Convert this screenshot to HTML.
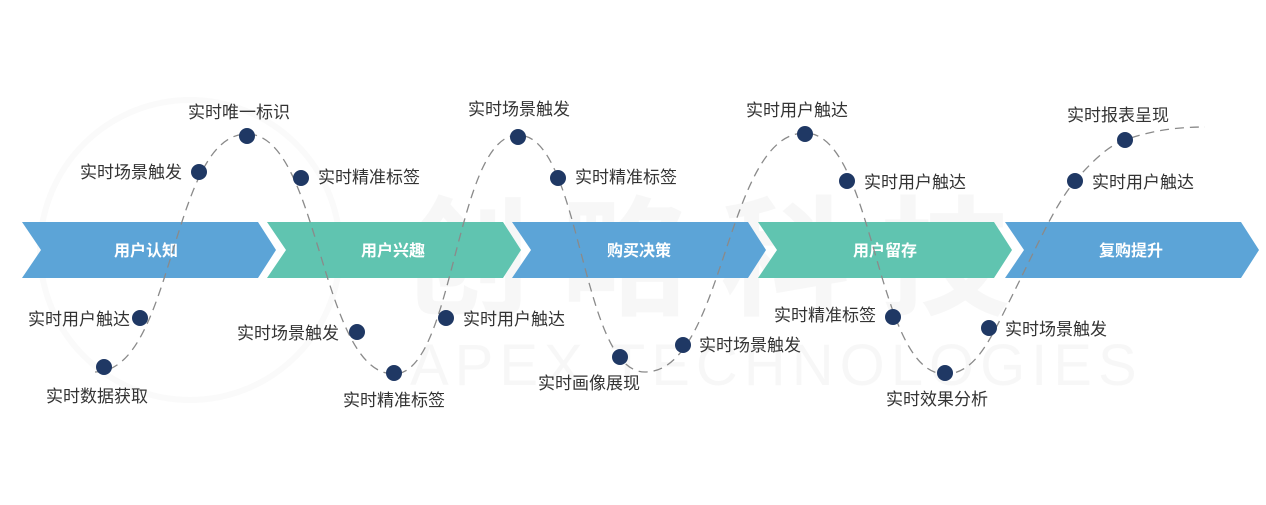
<!DOCTYPE html>
<html><head><meta charset="utf-8"><style>
html,body{margin:0;padding:0;background:#fff;}
body{width:1266px;height:505px;overflow:hidden;position:relative;}
svg{position:absolute;left:0;top:0;}
text{font-family:"Liberation Sans","Noto Sans CJK SC",sans-serif;}
</style></head><body>
<svg width="1266" height="505" viewBox="0 0 1266 505">
<g opacity="0.04" fill="#555">
<circle cx="190" cy="250" r="150" fill="none" stroke="#777" stroke-width="6"/>
<text x="400" y="305" font-size="130" font-weight="bold" style="letter-spacing:30px">创略科技</text>
<text x="410" y="385" font-size="58" style="letter-spacing:6px">APEX TECHNOLOGIES</text>
</g>
<g>
<polygon points="22,222 258,222 276,250 258,278 22,278 41,250" fill="#5ca4d7"/>
<polygon points="267,222 503,222 521,250 503,278 267,278 286,250" fill="#60c4b0"/>
<polygon points="512,222 748,222 766,250 748,278 512,278 531,250" fill="#5ca4d7"/>
<polygon points="758,222 994,222 1012,250 994,278 758,278 777,250" fill="#60c4b0"/>
<polygon points="1005,222 1241,222 1259,250 1241,278 1005,278 1024,250" fill="#5ca4d7"/>
</g>
<g fill="#fff" font-size="16" font-weight="bold" text-anchor="middle">
<text x="146" y="256">用户认知</text>
<text x="393" y="256">用户兴趣</text>
<text x="639" y="256">购买决策</text>
<text x="885" y="256">用户留存</text>
<text x="1131" y="256">复购提升</text>
</g>
<path d="M95,372 C175,372 170,134 247,134 C320,134 320,374 394,374 C455,374 455,135 518,135 C582,135 580,372 645,372 C725,372 725,133 805,133 C875,133 875,374 945,374 C975,374 990,340 1010,300 C1040,240 1055,205 1075,181 C1095,158 1110,145 1125,140 C1150,131 1175,127 1205,127" fill="none" stroke="#8a8a8a" stroke-width="1.3" stroke-dasharray="9,6"/>
<g fill="#1f3864">
<circle cx="104" cy="367" r="8"/><circle cx="140" cy="318" r="8"/><circle cx="199" cy="172" r="8"/><circle cx="247" cy="136" r="8"/><circle cx="301" cy="178" r="8"/><circle cx="357" cy="332" r="8"/><circle cx="394" cy="373" r="8"/><circle cx="446" cy="318" r="8"/><circle cx="518" cy="137" r="8"/><circle cx="558" cy="178" r="8"/><circle cx="620" cy="357" r="8"/><circle cx="683" cy="345" r="8"/><circle cx="805" cy="134" r="8"/><circle cx="847" cy="181" r="8"/><circle cx="893" cy="317" r="8"/><circle cx="945" cy="373" r="8"/><circle cx="989" cy="328" r="8"/><circle cx="1075" cy="181" r="8"/><circle cx="1125" cy="140" r="8"/>
</g>
<g fill="#333" font-size="17">
<text x="188" y="118">实时唯一标识</text>
<text x="80" y="178">实时场景触发</text>
<text x="318" y="183">实时精准标签</text>
<text x="28" y="325">实时用户触达</text>
<text x="46" y="402">实时数据获取</text>
<text x="237" y="339">实时场景触发</text>
<text x="343" y="406">实时精准标签</text>
<text x="463" y="325">实时用户触达</text>
<text x="468" y="115">实时场景触发</text>
<text x="575" y="183">实时精准标签</text>
<text x="538" y="389">实时画像展现</text>
<text x="699" y="351">实时场景触发</text>
<text x="746" y="116">实时用户触达</text>
<text x="864" y="188">实时用户触达</text>
<text x="774" y="321">实时精准标签</text>
<text x="886" y="405">实时效果分析</text>
<text x="1005" y="335">实时场景触发</text>
<text x="1092" y="188">实时用户触达</text>
<text x="1067" y="121">实时报表呈现</text>
</g>
</svg>
</body></html>
